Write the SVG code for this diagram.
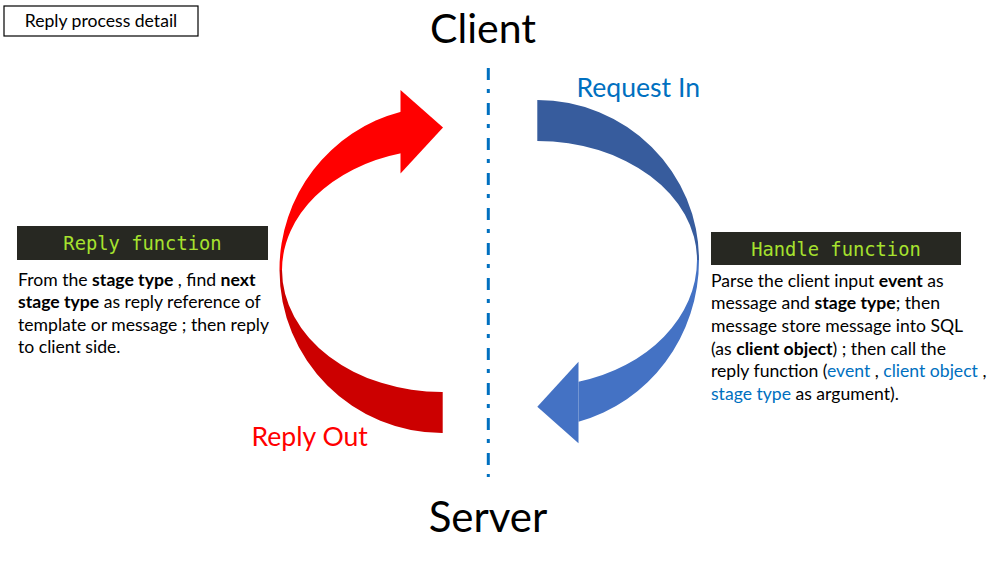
<svg xmlns="http://www.w3.org/2000/svg" width="1005" height="567" viewBox="0 0 1005 567">
<style>
.body{font-family:Lato,"Open Sans","Liberation Sans",sans-serif;font-size:17.6px;fill:#000}
.b{font-weight:bold}
.bl{fill:#0070C0}
.mono{font-family:"DejaVu Sans Mono","Liberation Mono",monospace;font-size:18.8px;fill:#A6E22E}
.big{font-family:Lato,"Open Sans","Liberation Sans",sans-serif;fill:#000}
.lbl{font-family:Lato,"Open Sans","Liberation Sans",sans-serif;font-size:26.6px}
.dark{fill:#272822}
</style>
<rect width="1005" height="567" fill="#fff"/>
<g id="title">
<rect x="4" y="6" width="194" height="30" fill="#fff" stroke="#000" stroke-width="1.2"/>
<text class="body" x="101" y="27" text-anchor="middle">Reply process detail</text>
</g>
<g id="client"><text class="big" x="483" y="43" font-size="41" text-anchor="middle">Client</text></g>
<g id="server"><text class="big" x="488" y="532" font-size="42" text-anchor="middle">Server</text></g>
<g id="connectors">
<line x1="488.3" y1="68" x2="488.3" y2="477" stroke="#0070C0" stroke-width="3" stroke-dasharray="12 9 4 10"/>
<g id="reply-arrow">
<path d="M279.5,270 A162.5,163 0 0 0 442.7,433 L442.7,392 A160,122 0 0 1 282,270 Z" fill="#CC0000"/>
<path d="M401,111.7 A162.5,163 0 0 0 279.5,270 L282,270 A160,121 0 0 1 401,153.3 Z" fill="#FF0000"/>
<polygon points="400.5,90 443,127.5 400.5,173.5" fill="#FF0000"/>
</g>
<g id="request-arrow">
<path d="M537.3,100 A162,160 0 0 1 699,260 L697,260 A160,119 0 0 0 537.3,141 Z" fill="#375C9D"/>
<path d="M699,260 A162,167 0 0 1 578.5,421.7 L578.5,381.7 A160,126 0 0 0 697,260 Z" fill="#4472C4"/>
<polygon points="578.5,361.7 537.3,406.7 578.5,443.3" fill="#4472C4"/>
</g>
</g>
<g id="request-label"><text class="lbl bl" x="576.5" y="97">Request In</text></g>
<g id="reply-label"><text class="lbl" x="251.5" y="446" fill="#FF0000">Reply Out</text></g>
<g id="reply-function">
<rect class="dark" x="17" y="226" width="251" height="34"/>
<text class="mono" x="142.5" y="250" text-anchor="middle">Reply function</text>
<text class="body" x="18" y="286">From the <tspan class="b">stage type</tspan> , find <tspan class="b">next</tspan></text>
<text class="body" x="18" y="308"><tspan class="b">stage type</tspan> as reply reference of</text>
<text class="body" x="18" y="331">template or message ; then reply</text>
<text class="body" x="18" y="353">to client side.</text>
</g>
<g id="handle-function">
<rect class="dark" x="711" y="232" width="250" height="33"/>
<text class="mono" x="836" y="256" text-anchor="middle">Handle function</text>
<text class="body" x="711" y="287">Parse the client input <tspan class="b">event</tspan> as</text>
<text class="body" x="711" y="309">message and <tspan class="b">stage type</tspan>; then</text>
<text class="body" x="711" y="332">message store message into SQL</text>
<text class="body" x="711" y="355">(as <tspan class="b">client object</tspan>) ; then call the</text>
<text class="body" x="711" y="377">reply function (<tspan class="bl">event</tspan> , <tspan class="bl">client object</tspan> ,</text>
<text class="body" x="711" y="400"><tspan class="bl">stage type</tspan> as argument).</text>
</g>
</svg>
